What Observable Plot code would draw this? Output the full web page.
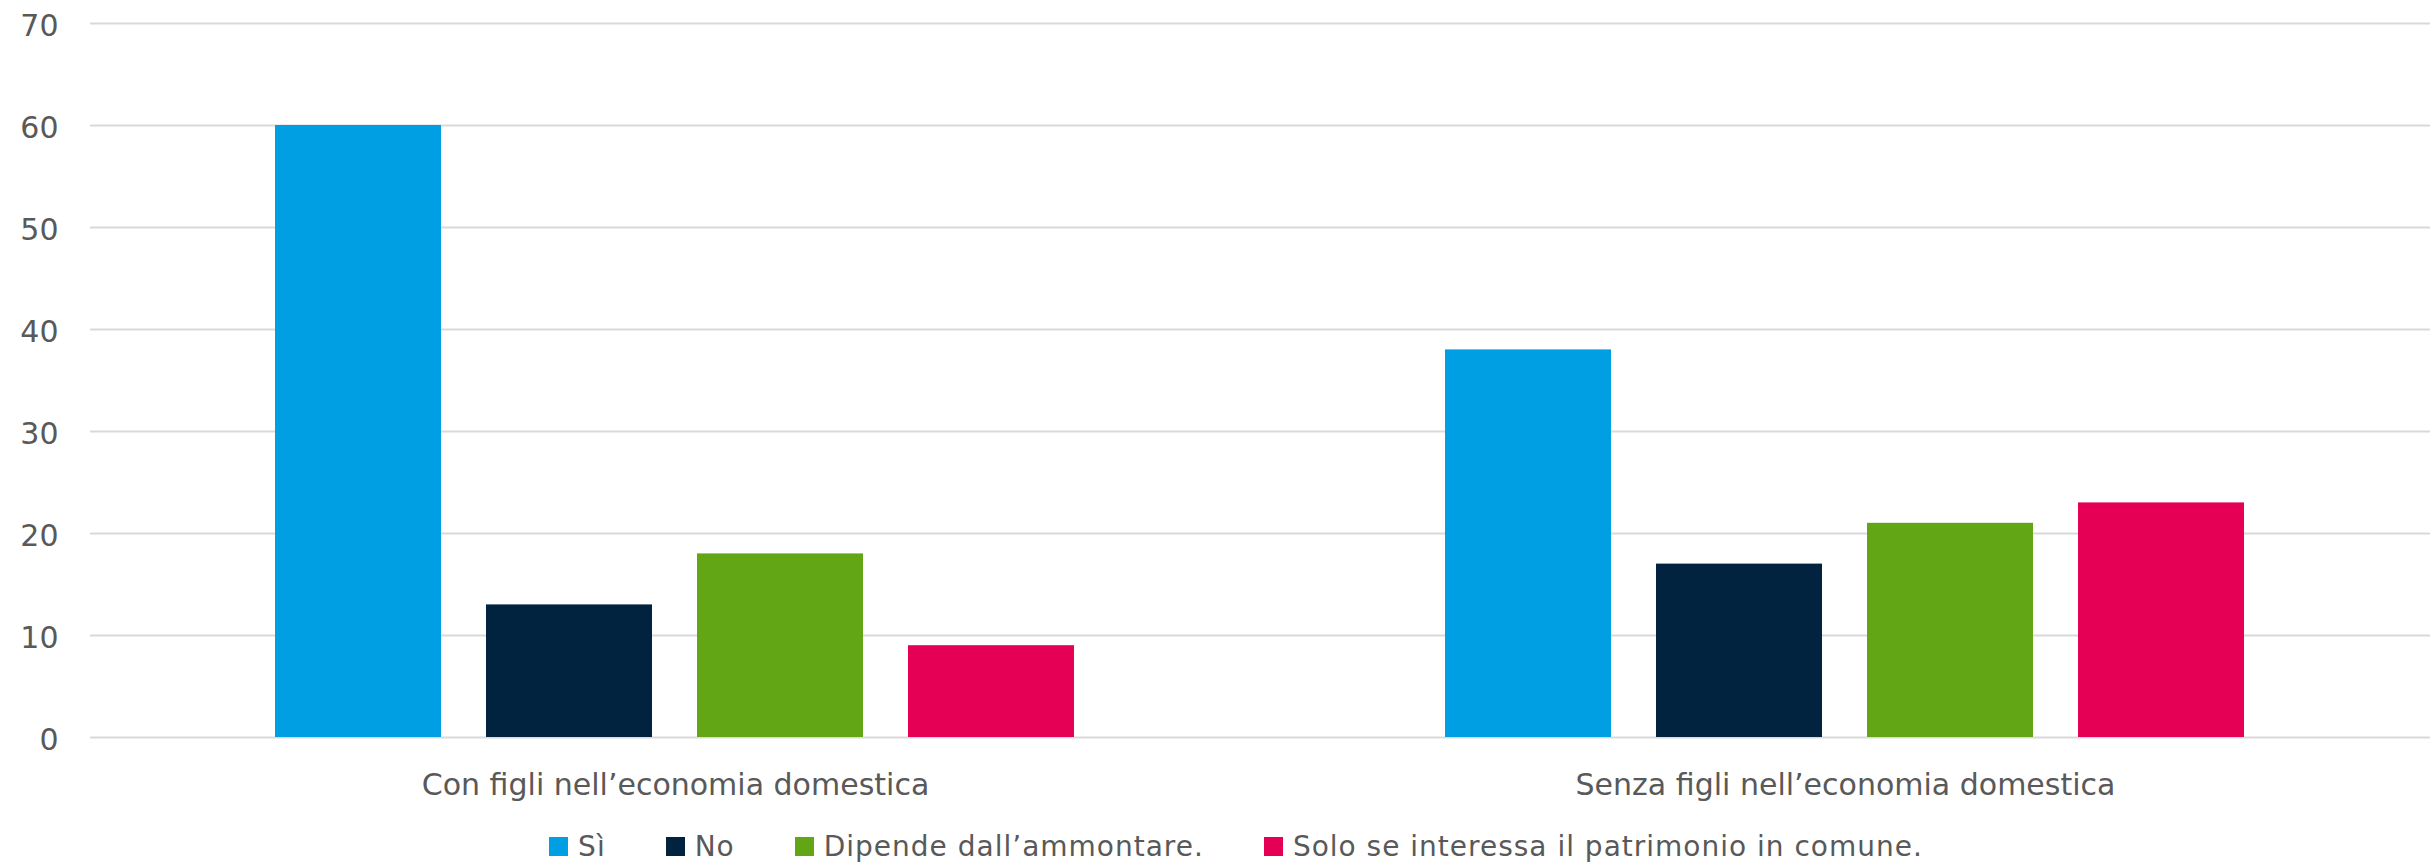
<!DOCTYPE html>
<html>
<head>
<meta charset="utf-8">
<script src="https://cdn.jsdelivr.net/npm/d3@7"></script>
<script src="https://cdn.jsdelivr.net/npm/@observablehq/plot@0.6"></script>
<style>
  html, body { margin: 0; padding: 0; background: #fff; }
  body { width: 2432px; font-family: "DejaVu Sans", sans-serif; color: #595959; }
  #legend { height: 54px; box-sizing: border-box; padding-top: 18px; padding-left: 40px;
    display: flex; justify-content: center; align-items: center; font-size: 28px; letter-spacing: 1px; color: #595959; }
  .item { display: flex; align-items: center; margin: 0 30px; }
  .sw { width: 19px; height: 19px; margin-right: 10px; }
</style>
</head>
<body>
<div id="chart"></div>
<div id="legend"></div>
<script>
const groups = ["Con figli nell’economia domestica", "Senza figli nell’economia domestica"];
const series = ["Sì", "No", "Dipende dall’ammontare.", "Solo se interessa il patrimonio in comune."];
const colors = ["#009fe3", "#012340", "#62a515", "#e50056"];
const valuesConFigli = [60, 13, 18, 9];
const valuesSenzaFigli = [38, 17, 21, 23];
const yTicks = [0, 10, 20, 30, 40, 50, 60, 70];

const data = [];
[valuesConFigli, valuesSenzaFigli].forEach((vals, gi) => {
  vals.forEach((v, si) => data.push({group: groups[gi], series: series[si], value: v}));
});

const chart = Plot.plot({
  width: 2432,
  height: 810,
  marginTop: 23,
  marginBottom: 73,
  marginLeft: 89,
  marginRight: 2,
  style: {fontFamily: "'DejaVu Sans', sans-serif", fontSize: "30px", color: "#595959", background: "#fff"},
  fx: {domain: groups, padding: 0},
  x: {domain: series, paddingInner: 0.212, paddingOuter: 0.869, axis: null},
  y: {domain: [0, 70]},
  color: {domain: series, range: colors},
  marks: [
    Plot.gridY(yTicks, {stroke: "#d9d9d9", strokeOpacity: 1, strokeWidth: 2}),
    Plot.barY(data, {fx: "group", x: "series", y: "value", fill: "series"}),
    Plot.axisY(yTicks, {tickSize: 0, tickPadding: 32, dy: 3, fill: "#595959", fontSize: 30, label: null}),
    Plot.axisFx({anchor: "bottom", tickSize: 0, tickPadding: 36, fill: "#595959", fontSize: 30, label: null})
  ]
});
document.getElementById("chart").appendChild(chart);

const legend = document.getElementById("legend");
series.forEach((s, i) => {
  const it = document.createElement("div");
  it.className = "item";
  const sw = document.createElement("div");
  sw.className = "sw";
  sw.style.background = colors[i];
  const t = document.createElement("span");
  t.textContent = s;
  it.appendChild(sw);
  it.appendChild(t);
  legend.appendChild(it);
});
</script>
</body>
</html>
